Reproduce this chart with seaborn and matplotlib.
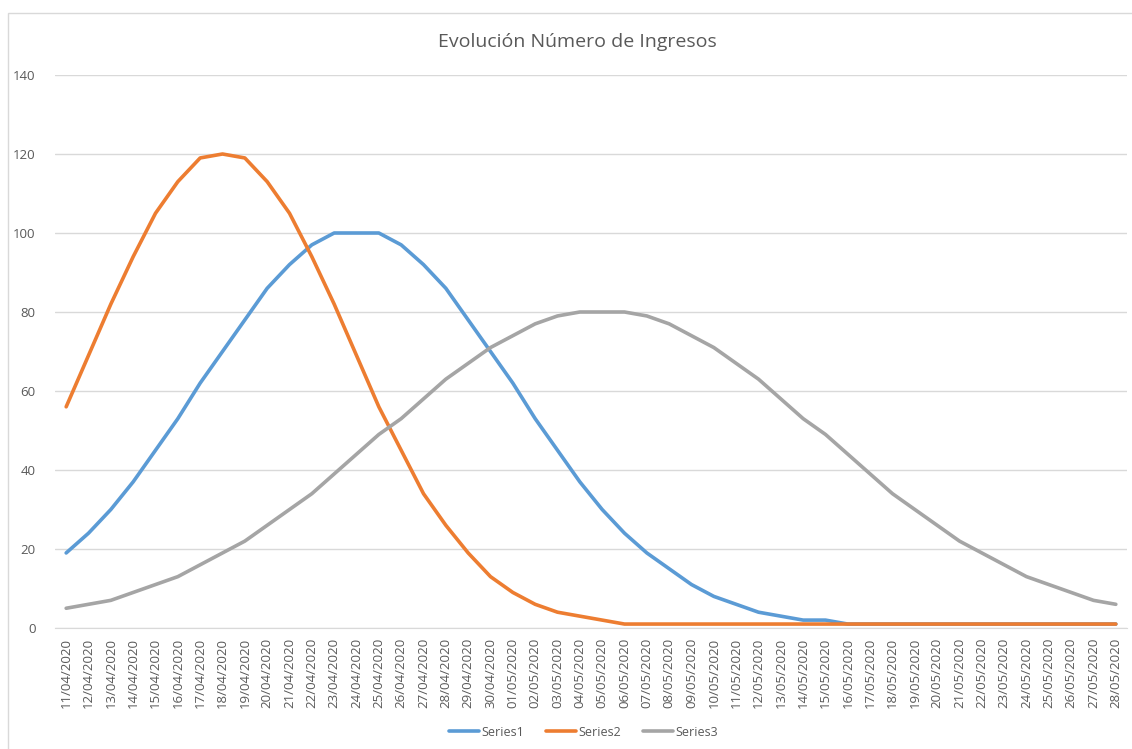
import seaborn as sns
import matplotlib.pyplot as plt
import matplotlib.patches as mpatches
import pandas as pd

# fechas del eje x
fechas = (['%02d/04/2020' % d for d in range(11, 31)] +
          ['%02d/05/2020' % d for d in range(1, 29)])

series1 = [19, 24, 30, 37, 45, 53, 62, 70, 78, 86, 92, 97, 100, 100, 100, 97,
           92, 86, 78, 70, 62, 53, 45, 37, 30, 24, 19, 15, 11, 8, 6, 4, 3, 2,
           2, 1, 1, 1, 1, 1, 1, 1, 1, 1, 1, 1, 1, 1]
series2 = [56, 69, 82, 94, 105, 113, 119, 120, 119, 113, 105, 94, 82, 69, 56,
           45, 34, 26, 19, 13, 9, 6, 4, 3, 2, 1, 1, 1, 1, 1, 1, 1, 1, 1, 1, 1,
           1, 1, 1, 1, 1, 1, 1, 1, 1, 1, 1, 1]
series3 = [5, 6, 7, 9, 11, 13, 16, 19, 22, 26, 30, 34, 39, 44, 49, 53, 58, 63,
           67, 71, 74, 77, 79, 80, 80, 80, 79, 77, 74, 71, 67, 63, 58, 53, 49,
           44, 39, 34, 30, 26, 22, 19, 16, 13, 11, 9, 7, 6]

nombres = ['Series1', 'Series2', 'Series3']
colores = ['#5B9BD5', '#ED7D31', '#A5A5A5']
yticks = [0, 20, 40, 60, 80, 100, 120, 140]

df = pd.DataFrame({
    'Fecha': fechas * 3,
    'Valor': series1 + series2 + series3,
    'Serie': [n for n in nombres for _ in fechas],
})
df['pos'] = list(range(len(fechas))) * 3

sns.set_style('white')
plt.rcParams['font.family'] = ['Open Sans', 'DejaVu Sans']

fig = plt.figure(figsize=(11.32, 7.49), dpi=100)
ax = fig.add_axes([55 / 1132, 1 - 628 / 749, (1127 - 55) / 1132, (628 - 75) / 749])

sns.lineplot(data=df, x='pos', y='Valor', hue='Serie', palette=colores,
             linewidth=2.6, ax=ax, sort=False)

ax.set_xlim(-0.5, len(fechas) - 0.5)
ax.set_ylim(0, 140)
ax.set_yticks(yticks)
ax.set_yticklabels([str(t) for t in yticks])
ax.set_xticks(range(len(fechas)))
ax.set_xticklabels(fechas, rotation=90)
ax.set_xticks([i - 0.5 for i in range(len(fechas) + 1)], minor=True)
ax.tick_params(axis='x', which='major', length=0, pad=7, labelsize=9.5, colors='#595959')
ax.tick_params(axis='x', which='minor', length=5, color='#D9D9D9', width=1)
ax.tick_params(axis='y', length=0, pad=14, labelsize=9.5, colors='#595959')
ax.grid(axis='y', color='#D9D9D9', linewidth=1)
ax.set_axisbelow(True)
for s in ['top', 'right', 'left']:
    ax.spines[s].set_visible(False)
ax.spines['bottom'].set_color('#D9D9D9')
ax.set_xlabel('')
ax.set_ylabel('')

fig.suptitle('Evolución Número de Ingresos', x=0.51, y=1 - 42 / 749, va='center',
             fontsize=14, color='#595959')

ax.legend(loc='center', bbox_to_anchor=(0.493, -(732 - 628) / 553),
          ncol=3, frameon=False, fontsize=9, handlelength=2.4, handletextpad=0.15,
          columnspacing=1.8, labelcolor='#595959')

# borde del gráfico
fig.patches.append(mpatches.Rectangle((8 / 1132, -0.01), 1.1, 1 - 13 / 749 + 0.01,
                                      transform=fig.transFigure, fill=False,
                                      edgecolor='#D9D9D9', linewidth=1))

plt.savefig('out.png', dpi=100)
